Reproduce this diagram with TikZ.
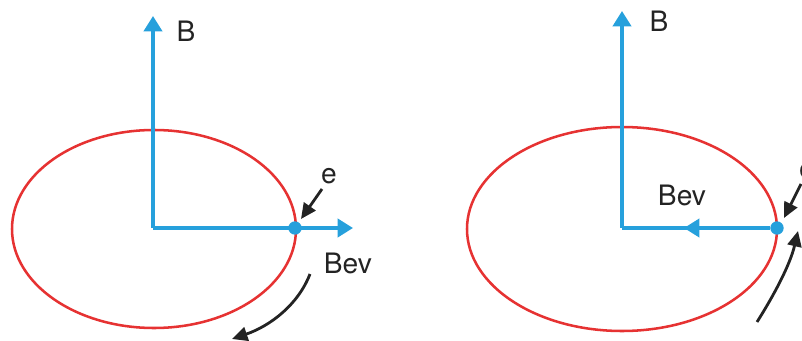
\documentclass[tikz,border=0pt]{standalone}
\usepackage{fontspec}
\setmainfont{TeX Gyre Heros}
\usetikzlibrary{arrows.meta,positioning}
\definecolor{vecblue}{RGB}{38,160,220}
\definecolor{orbitred}{RGB}{230,50,50}
\definecolor{inkgray}{RGB}{35,35,35}
\tikzset{
  orbit/.style={draw=orbitred,line width=1.8pt},
  vec/.style={vecblue,line width=2.5pt},
  vectip/.style={vecblue,line width=2.5pt,-{Triangle[length=11pt,width=13pt]}},
  pointer/.style={inkgray,line width=2pt,-{Triangle[length=11pt,width=10pt]}},
  electron/.style={circle,fill=vecblue,inner sep=0pt,minimum size=9.5pt},
  lbl/.style={text=inkgray,font=\fontsize{20}{23}\selectfont,inner sep=0pt}
}
\begin{document}
\begin{tikzpicture}[x=0.025cm,y=-0.025cm,>=Latex]
\useasboundingbox (0,0) rectangle (802,341);
% left panel
\draw[orbit] (154,229) ellipse [x radius=142,y radius=99];
\coordinate (oL) at (153,228);
\coordinate (bL) at (153,16);
\coordinate (vL) at (353,228);
\node[electron] (eL) at (295,228) {};
\draw[vectip] (oL) -- (bL);
\draw[vectip] (oL) -- (vL);
\node[lbl] (BL) at (186,31) {B};
\node[lbl] (eLbl) at (329,176) {e};
\node[lbl] (BevL) at (348,263) {Bev};
\coordinate (pL) at (322,189);
\coordinate (tL) at (301,219);
\draw[pointer] (pL) -- (tL);
\coordinate (sL) at (310,274);
\coordinate (fL) at (232,339);
\draw[pointer] (sL) .. controls (298,305) and (270,326) .. (fL);
% right panel
\draw[orbit] (622,229) ellipse [x radius=155,y radius=102];
\coordinate (oR) at (622,228);
\coordinate (bR) at (622,11);
\coordinate (mR) at (684,228);
\node[electron] (eR) at (777,228) {};
\draw[vectip] (oR) -- (bR);
\draw[vec] (eR) -- (oR);
\draw[vectip] (eR) -- (mR);
\node[lbl] (BR) at (659,21) {B};
\node[lbl] (eRlbl) at (807,171) {e};
\node[lbl] (BevR) at (682,195) {Bev};
\coordinate (pR) at (801,184);
\coordinate (tR) at (784,218);
\draw[pointer] (pR) -- (tR);
\coordinate (sR) at (757,322);
\coordinate (fR) at (798,231);
\draw[pointer] (sR) .. controls (774,295) and (790,265) .. (fR);
\end{tikzpicture}
\end{document}
